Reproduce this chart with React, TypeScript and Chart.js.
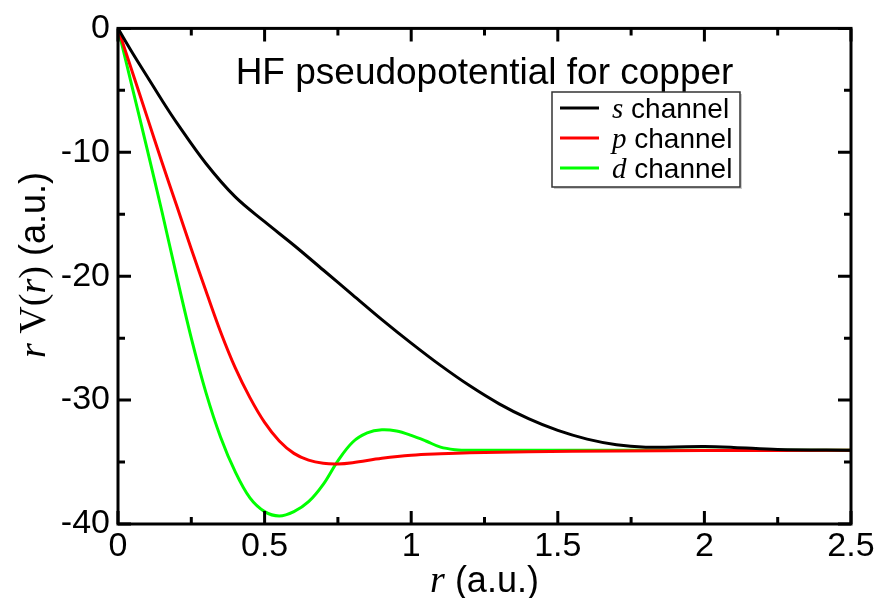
import React, { useEffect, useRef } from "react";
import { Chart, registerables } from "chart.js";

Chart.register(...registerables);

// ---- data ----
const sR = [0, 0.05, 0.1, 0.15, 0.2, 0.3, 0.4, 0.5, 0.6, 0.7, 0.8, 0.9, 1.0, 1.1, 1.2, 1.3, 1.4, 1.5, 1.6, 1.7, 1.8, 1.9, 2.0, 2.1, 2.25, 2.5];
const sV = [0, -2.0, -3.9, -5.8, -7.6, -10.9, -13.6, -15.6, -17.5, -19.5, -21.5, -23.5, -25.4, -27.2, -28.85, -30.3, -31.5, -32.45, -33.15, -33.6, -33.8, -33.78, -33.75, -33.82, -33.98, -34.05];

const pR = [0, 0.05, 0.1, 0.15, 0.2, 0.25, 0.3, 0.35, 0.4, 0.45, 0.5, 0.55, 0.6, 0.65, 0.7, 0.75, 0.8, 0.9, 1.0, 1.1, 1.2, 1.4, 1.7, 2.0, 2.5];
const pV = [0, -3.6, -7.2, -10.8, -14.3, -17.8, -21.2, -24.5, -27.4, -29.8, -31.8, -33.3, -34.3, -34.85, -35.1, -35.15, -35.05, -34.7, -34.45, -34.33, -34.25, -34.17, -34.1, -34.07, -34.05];

const dR = [0, 0.05, 0.1, 0.15, 0.2, 0.25, 0.3, 0.35, 0.4, 0.45, 0.5, 0.55, 0.6, 0.65, 0.7, 0.75, 0.8, 0.85, 0.9, 0.95, 1.0, 1.05, 1.1, 1.15, 1.2, 1.5, 2.0, 2.5];
const dV = [0, -4.9, -9.8, -14.8, -20.0, -25.0, -29.4, -33.0, -35.8, -37.9, -39.0, -39.35, -39.0, -38.2, -36.8, -34.9, -33.4, -32.65, -32.4, -32.5, -32.85, -33.3, -33.8, -34.0, -34.05, -34.05, -34.05, -34.05];

const channelNames = ["s", "p", "d"];
const channelColors = ["#000000", "#ff0000", "#00ff00"];
const titleText = "HF pseudopotential for copper";

const xMin = 0, xMax = 2.5, xMajor = 0.5, xMinor = 0.25;
const yMin = -40, yMax = 0, yMajor = 10, yMinor = 5;

const SANS = '"Liberation Sans", Arial, sans-serif';
const SERIF = '"Liberation Serif", "Times New Roman", serif';

type Seg = { text: string; font: string };

function drawRich(ctx: CanvasRenderingContext2D, segs: Seg[], x: number, y: number, align: "left" | "center") {
  ctx.textAlign = "left";
  ctx.textBaseline = "alphabetic";
  let total = 0;
  for (const s of segs) { ctx.font = s.font; total += ctx.measureText(s.text).width; }
  let cx = align === "center" ? x - total / 2 : x;
  for (const s of segs) {
    ctx.font = s.font;
    ctx.fillText(s.text, cx, y);
    cx += ctx.measureText(s.text).width;
  }
}

const decorPlugin = {
  id: "decor",
  afterDatasetsDraw(chart: any) {
    const ctx: CanvasRenderingContext2D = chart.ctx;
    const { left, right, top, bottom } = chart.chartArea;
    const xs = chart.scales.x;
    const ys = chart.scales.y;
    ctx.save();
    // frame
    ctx.strokeStyle = "#000";
    ctx.lineWidth = 3;
    ctx.lineCap = "butt";
    ctx.strokeRect(left, top, right - left, bottom - top);
    // inward ticks
    ctx.beginPath();
    const nx = Math.round((xMax - xMin) / xMinor);
    for (let i = 0; i <= nx; i++) {
      const v = xMin + i * xMinor;
      const major = Math.abs(v / xMajor - Math.round(v / xMajor)) < 1e-6;
      const len = major ? 13 : 7;
      const px = xs.getPixelForValue(v);
      ctx.moveTo(px, bottom); ctx.lineTo(px, bottom - len);
      ctx.moveTo(px, top); ctx.lineTo(px, top + len);
    }
    const ny = Math.round((yMax - yMin) / yMinor);
    for (let i = 0; i <= ny; i++) {
      const v = yMin + i * yMinor;
      const major = Math.abs(v / yMajor - Math.round(v / yMajor)) < 1e-6;
      const len = major ? 13 : 7;
      const py = ys.getPixelForValue(v);
      ctx.moveTo(left, py); ctx.lineTo(left + len, py);
      ctx.moveTo(right, py); ctx.lineTo(right - len, py);
    }
    ctx.stroke();

    ctx.fillStyle = "#000";
    // title inside plot
    ctx.font = `37px ${SANS}`;
    ctx.textAlign = "center";
    ctx.textBaseline = "alphabetic";
    ctx.fillText(titleText, (left + right) / 2, top + 56);

    // legend
    const bx = 552, by = 92, bw = 188, bh = 95;
    ctx.fillStyle = "#cccccc";
    ctx.fillRect(bx + 2, by + 2, bw, bh);
    ctx.fillStyle = "#fff";
    ctx.fillRect(bx, by, bw, bh);
    ctx.strokeStyle = "#333";
    ctx.lineWidth = 1.5;
    ctx.strokeRect(bx, by, bw, bh);
    chart.data.datasets.forEach((ds: any, i: number) => {
      const ry = by + 16 + i * 30;
      ctx.strokeStyle = ds.borderColor;
      ctx.lineWidth = 3;
      ctx.beginPath();
      ctx.moveTo(bx + 8, ry); ctx.lineTo(bx + 47, ry);
      ctx.stroke();
      ctx.fillStyle = "#000";
      const label: string = ds.label;
      const letter = label.slice(0, 1);
      const rest = label.slice(1);
      drawRich(ctx, [
        { text: letter, font: `italic 29px ${SERIF}` },
        { text: rest, font: `28px ${SANS}` },
      ], bx + 60, ry + 10, "left");
    });

    // x-axis title
    ctx.fillStyle = "#000";
    drawRich(ctx, [
      { text: "r", font: `italic 38px ${SERIF}` },
      { text: " (a.u.)", font: `36px ${SANS}` },
    ], (left + right) / 2, 592, "center");

    // y-axis title
    ctx.save();
    ctx.translate(45, 265);
    ctx.rotate(-Math.PI / 2);
    drawRich(ctx, [
      { text: "r", font: `italic 38px ${SERIF}` },
      { text: " V(", font: `38px ${SERIF}` },
      { text: "r", font: `italic 38px ${SERIF}` },
      { text: ")", font: `38px ${SERIF}` },
      { text: " (a.u.)", font: `36px ${SANS}` },
    ], 0, 0, "center");
    ctx.restore();

    ctx.restore();
  },
};

function makePoints(rs: number[], vs: number[]) {
  return rs.map((r, i) => ({ x: r, y: vs[i] }));
}

export default function App() {
  const canvasRef = useRef<HTMLCanvasElement | null>(null);

  useEffect(() => {
    if (!canvasRef.current) return;
    const series = [makePoints(sR, sV), makePoints(pR, pV), makePoints(dR, dV)];
    const chart = new Chart(canvasRef.current, {
      type: "line",
      data: {
        datasets: series.map((pts, i) => ({
          label: `${channelNames[i]} channel`,
          data: pts,
          borderColor: channelColors[i],
          backgroundColor: channelColors[i],
          borderWidth: 3,
          pointRadius: 0,
          fill: false,
          tension: 0.35,
        })),
      },
      options: {
        animation: false,
        responsive: true,
        maintainAspectRatio: false,
        layout: { padding: { top: 25, right: 28, left: 0, bottom: 0 } },
        plugins: {
          legend: { display: false },
          title: { display: false },
          tooltip: { enabled: false },
        },
        scales: {
          x: {
            type: "linear",
            min: xMin,
            max: xMax,
            grid: { display: false, drawTicks: false },
            border: { display: false },
            ticks: {
              stepSize: xMajor,
              color: "#000",
              padding: 2,
              maxRotation: 0,
              autoSkip: false,
              font: { family: SANS, size: 34 },
              callback: (v: any) => String(Math.round(Number(v) * 100) / 100),
            },
            afterFit: (s: any) => { s.height = 74; },
          },
          y: {
            type: "linear",
            min: yMin,
            max: yMax,
            grid: { display: false, drawTicks: false },
            border: { display: false },
            ticks: {
              stepSize: yMajor,
              color: "#000",
              padding: 8,
              font: { family: SANS, size: 34 },
              callback: (v: any) => String(Math.round(Number(v))),
            },
            afterFit: (s: any) => { s.width = 118; },
          },
        },
      },
      plugins: [decorPlugin],
    });
    return () => chart.destroy();
  }, []);

  return (
    <div style={{ position: "fixed", left: 0, top: 0, width: 879, height: 598, background: "#fff" }}>
      <canvas ref={canvasRef} style={{ display: "block" }} />
    </div>
  );
}
